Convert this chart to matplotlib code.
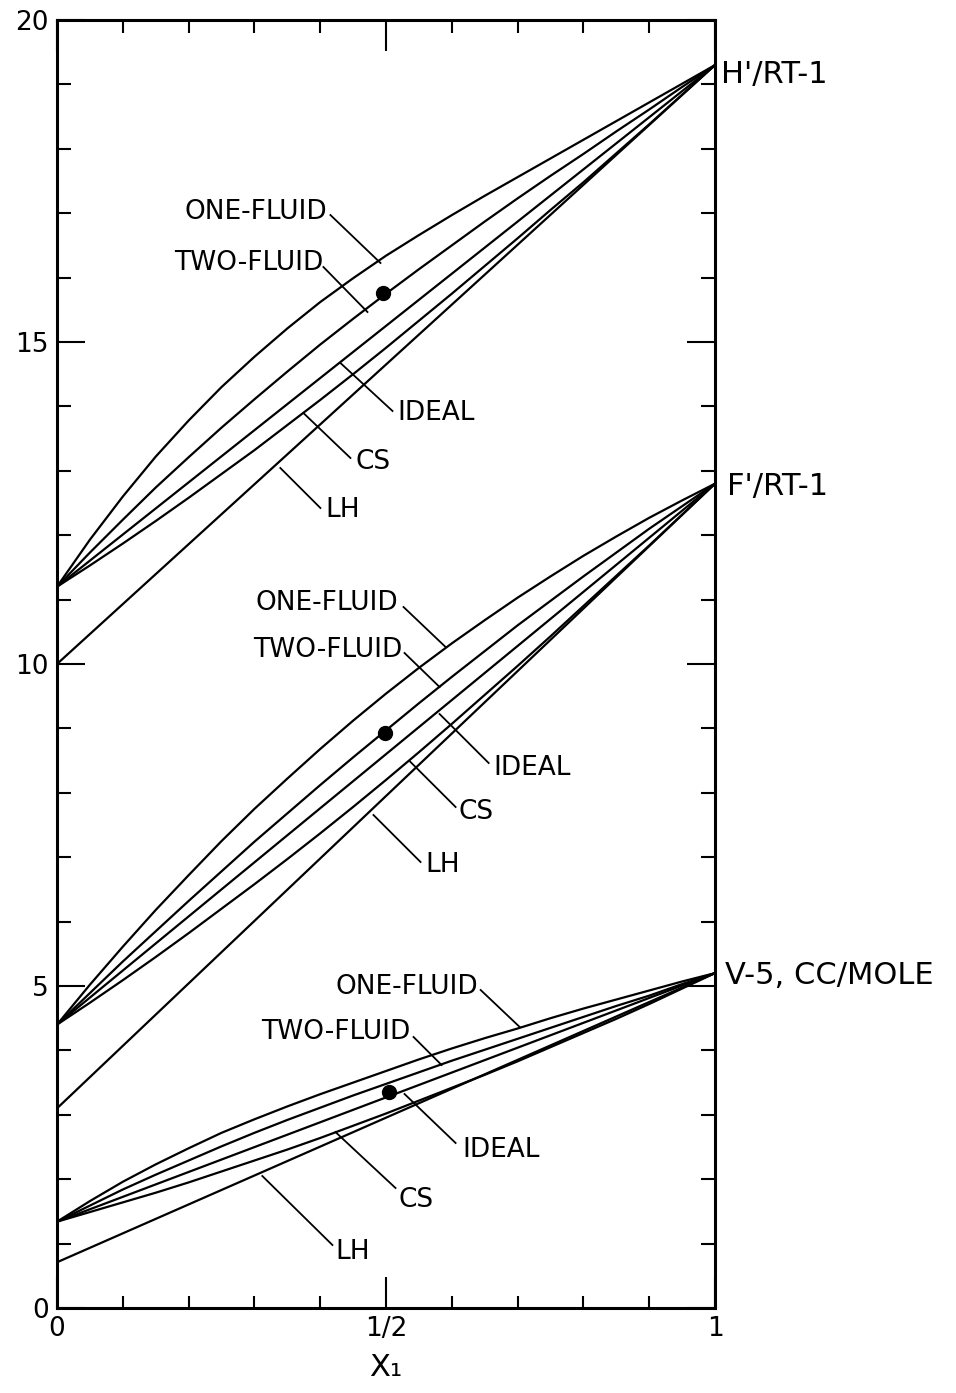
import matplotlib.pyplot as plt
from matplotlib.ticker import MultipleLocator

# mole fraction x1 (curved models)
x1 = [0.0, 0.05, 0.1, 0.15, 0.2, 0.25, 0.3, 0.35, 0.4, 0.45, 0.5,
      0.55, 0.6, 0.65, 0.7, 0.75, 0.8, 0.85, 0.9, 0.95, 1.0]
# ideal and LH are straight lines
x_ends = [0.0, 1.0]

# H'/RT - 1
h_one = [11.2, 11.93, 12.60, 13.22, 13.78, 14.30, 14.77, 15.21, 15.62, 15.99, 16.34,
         16.66, 16.97, 17.27, 17.56, 17.85, 18.14, 18.43, 18.72, 19.01, 19.3]
h_two = [11.2, 11.73, 12.24, 12.74, 13.21, 13.67, 14.11, 14.54, 14.96, 15.36, 15.75,
         16.13, 16.50, 16.87, 17.23, 17.58, 17.92, 18.27, 18.61, 18.96, 19.3]
h_cs = [11.2, 11.53, 11.87, 12.22, 12.58, 12.95, 13.32, 13.71, 14.10, 14.50, 14.91,
        15.33, 15.75, 16.18, 16.61, 17.05, 17.48, 17.93, 18.38, 18.84, 19.3]
h_ideal = [11.2, 19.3]
h_lh = [10.0, 19.3]

# F'/RT - 1
f_one = [4.4, 5.02, 5.61, 6.18, 6.72, 7.25, 7.75, 8.22, 8.68, 9.12, 9.54,
         9.94, 10.32, 10.68, 11.03, 11.36, 11.68, 11.98, 12.27, 12.54, 12.8]
f_two = [4.4, 4.89, 5.38, 5.85, 6.32, 6.78, 7.24, 7.68, 8.12, 8.55, 8.97,
         9.39, 9.80, 10.20, 10.60, 10.98, 11.36, 11.73, 12.10, 12.45, 12.8]
f_cs = [4.4, 4.74, 5.09, 5.45, 5.82, 6.20, 6.58, 6.97, 7.37, 7.78, 8.20,
        8.63, 9.07, 9.52, 9.97, 10.43, 10.90, 11.37, 11.84, 12.32, 12.8]
f_ideal = [4.4, 12.8]
f_lh = [3.1, 12.8]

# V - 5, cc/mole
v_one = [1.34, 1.66, 1.96, 2.23, 2.48, 2.72, 2.93, 3.13, 3.32, 3.50, 3.68,
         3.86, 4.03, 4.19, 4.34, 4.50, 4.65, 4.79, 4.93, 5.07, 5.2]
v_two = [1.34, 1.59, 1.84, 2.07, 2.29, 2.51, 2.72, 2.92, 3.11, 3.30, 3.48,
         3.66, 3.84, 4.01, 4.18, 4.35, 4.52, 4.69, 4.85, 5.03, 5.2]
v_cs = [1.34, 1.49, 1.64, 1.79, 1.95, 2.12, 2.29, 2.46, 2.64, 2.83, 3.02,
        3.22, 3.42, 3.62, 3.83, 4.05, 4.27, 4.49, 4.72, 4.96, 5.2]
v_ideal = [1.34, 5.2]
v_lh = [0.71, 5.2]

# simulation points
dot_x = [0.495, 0.499, 0.504]
dot_y = [15.76, 8.93, 3.35]

fig = plt.figure(figsize=(9.56, 13.93), dpi=100)
ax = fig.add_axes([57 / 956, 85 / 1393, 658 / 956, 1288 / 1393])

lw = 1.6
for one, two, cs, ideal, lh in [(h_one, h_two, h_cs, h_ideal, h_lh),
                                (f_one, f_two, f_cs, f_ideal, f_lh),
                                (v_one, v_two, v_cs, v_ideal, v_lh)]:
    for c in (one, two, cs):
        ax.plot(x1, c, color='black', lw=lw)
    for c in (ideal, lh):
        ax.plot(x_ends, c, color='black', lw=lw)

ax.plot(dot_x, dot_y, 'o', color='black', ms=10)


# pixel -> data helpers for labels / leaders
def dx(px):
    return (px - 57) / 657


def dy(py):
    return (1308 - py) / 64.4


def leader(p0, p1):
    ax.plot([dx(p0[0]), dx(p1[0])], [dy(p0[1]), dy(p1[1])], color='black', lw=1.3)


fs = 19
# H'/RT group
ax.text(dx(327), dy(212), 'ONE-FLUID', ha='right', va='center', fontsize=fs)
leader((330, 215), (380, 263))
ax.text(dx(323), dy(263), 'TWO-FLUID', ha='right', va='center', fontsize=fs)
leader((323, 267), (367, 312))
ax.text(dx(397), dy(413), 'IDEAL', ha='left', va='center', fontsize=fs)
leader((340, 363), (392, 411))
ax.text(dx(355), dy(462), 'CS', ha='left', va='center', fontsize=fs)
leader((303, 413), (350, 458))
ax.text(dx(325), dy(510), 'LH', ha='left', va='center', fontsize=fs)
leader((280, 468), (320, 508))

# F'/RT group
ax.text(dx(398), dy(603), 'ONE-FLUID', ha='right', va='center', fontsize=fs)
leader((403, 607), (445, 647))
ax.text(dx(402), dy(650), 'TWO-FLUID', ha='right', va='center', fontsize=fs)
leader((404, 653), (439, 687))
ax.text(dx(493), dy(768), 'IDEAL', ha='left', va='center', fontsize=fs)
leader((439, 714), (488, 763))
ax.text(dx(458), dy(812), 'CS', ha='left', va='center', fontsize=fs)
leader((409, 761), (455, 807))
ax.text(dx(425), dy(865), 'LH', ha='left', va='center', fontsize=fs)
leader((373, 815), (420, 862))

# V group
ax.text(dx(477), dy(987), 'ONE-FLUID', ha='right', va='center', fontsize=fs)
leader((480, 990), (519, 1027))
ax.text(dx(410), dy(1032), 'TWO-FLUID', ha='right', va='center', fontsize=fs)
leader((413, 1037), (441, 1065))
ax.text(dx(462), dy(1150), 'IDEAL', ha='left', va='center', fontsize=fs)
leader((404, 1094), (455, 1143))
ax.text(dx(398), dy(1200), 'CS', ha='left', va='center', fontsize=fs)
leader((335, 1132), (395, 1188))
ax.text(dx(335), dy(1252), 'LH', ha='left', va='center', fontsize=fs)
leader((262, 1176), (332, 1245))

# right-hand property labels
ax.text(dx(720), dy(74), "H'/RT-1", ha='left', va='center', fontsize=22, clip_on=False)
ax.text(dx(726), dy(486), "F'/RT-1", ha='left', va='center', fontsize=22, clip_on=False)
ax.text(dx(724), dy(975), 'V-5, CC/MOLE', ha='left', va='center', fontsize=22, clip_on=False)

ax.set_xlim(0, 1)
ax.set_ylim(0, 20)
ax.set_xticks([0, 0.5, 1])
ax.set_xticklabels(['0', '1/2', '1'])
ax.xaxis.set_minor_locator(MultipleLocator(0.1))
ax.set_yticks([0, 5, 10, 15, 20])
ax.yaxis.set_minor_locator(MultipleLocator(1))
ax.tick_params(which='both', direction='in', top=True, right=True, width=1.5, labelsize=19)
ax.tick_params(axis='x', which='major', length=22, pad=6)
ax.tick_params(axis='x', which='minor', length=9)
ax.tick_params(axis='y', which='major', length=20, pad=6)
ax.tick_params(axis='y', which='minor', length=10)
for s in ax.spines.values():
    s.set_linewidth(2.2)

ax.set_xlabel('X₁', fontsize=22, labelpad=8)

fig.savefig('out.png', dpi=100)
